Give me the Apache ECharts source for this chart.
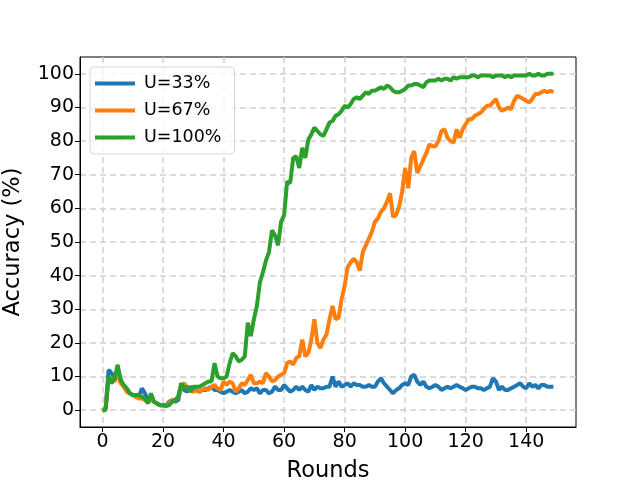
<!DOCTYPE html>
<html>
<head>
<meta charset="utf-8">
<script src="https://cdn.jsdelivr.net/npm/echarts@6/dist/echarts.min.js"></script>
<style>
  html, body { margin: 0; padding: 0; background: #fff; }
  #chart { width: 640px; height: 480px; }
</style>
</head>
<body>
<div id="chart"></div>
<script>
// accuracy per round
const u33 = [
  0, 0.5, 12, 11, 9.5, 11, 9, 7, 6, 5,
  4.5, 4, 4, 6.5, 5, 3, 4, 2.5, 2, 1.5,
  1.5, 1.5, 2.5, 3, 2.5, 3, 7, 6, 5.5, 7,
  6, 6, 5.5, 6, 6, 6.5, 7, 6, 6, 5.5,
  5, 5.5, 6, 5.5, 5, 5.5, 6, 5, 5.5, 6.5,
  6, 6.5, 5, 6, 6, 5, 5.5, 7, 6, 6,
  7.5, 6.5, 5.5, 6, 7, 6, 7, 6, 5.5, 7.5,
  6, 7, 6.5, 6.5, 7, 7, 10, 7, 8.5, 7,
  7.5, 8, 7, 8, 7.5, 7.5, 7, 7, 7.5, 7,
  7, 8.5, 9.5, 8, 7, 6, 5, 6, 6.5, 7.5,
  8, 7.5, 10, 10.5, 8.5, 7.5, 8.5, 7, 6.5, 7,
  7.5, 7, 6, 6.5, 7, 6.5, 7, 7.5, 7, 6.5,
  6, 6.5, 7, 7, 6.5, 6.5, 6, 6.5, 7, 9.5,
  8.5, 6, 7, 6, 6, 6.5, 7, 7.5, 8, 7,
  6.5, 8, 7, 7.5, 6.5, 7.5, 7.5, 7, 7, 7
];
const u67 = [
  0, 0.5, 9, 9.5, 8.5, 11, 8, 7, 5.5, 5,
  4.5, 4, 3.5, 3.5, 3, 2.5, 3, 2.5, 2, 1.5,
  1.5, 1.5, 2, 3, 3, 4, 7, 8, 6.5, 6,
  5.5, 6, 5.5, 6, 6.5, 6, 7, 7.5, 6.5, 6,
  8.5, 7.5, 8.5, 8, 5.5, 6.5, 8, 7.5, 9, 10.5,
  8, 8, 8.5, 8, 11, 10, 8.5, 9, 10, 10.5,
  11, 14, 14.5, 13.5, 15.5, 16, 21, 16, 17, 21,
  27, 20, 18.5, 21, 22.5, 27, 31, 27, 27.5, 33,
  37, 42.5, 44, 45, 44, 41.5, 47, 49, 51, 53,
  56, 57, 59, 60, 62, 64.5, 57.5, 58, 60.5, 65,
  72, 66, 75, 77, 70.5, 72.5, 74.5, 76.5, 79, 78.5,
  78.5, 80, 83, 83.5, 81, 80, 79.5, 83.5, 81, 83.5,
  85, 86.5, 86.5, 87.5, 88, 88.5, 89.5, 90.5, 90.5, 91.5,
  92.5, 90, 89, 89.5, 90, 89.5, 92, 93.5, 93, 92.5,
  92, 91.5, 92.5, 94, 94, 94.5, 95, 94.5, 95, 94.5
];
const u100 = [
  0, 0, 10, 8, 9.5, 13.5, 9, 7.5, 6.5, 5,
  4.5, 4.5, 4.5, 4, 3.5, 2, 5, 2.5, 2, 1.5,
  1.5, 1.2, 1.5, 2.5, 3, 4, 8, 6.5, 7, 5.5,
  7, 7, 7, 7.5, 8, 8.5, 8.5, 14, 10, 9.5,
  9.5, 10, 14, 17, 16, 14.5, 15, 16, 26, 22,
  27, 31, 38, 41, 44.5, 47, 53.5, 52, 49, 56,
  58, 68, 67.5, 75, 75.5, 72, 78, 75, 80.5, 82,
  84, 83, 82, 81.5, 83.5, 85.5, 86, 87.5, 88, 89,
  90.5, 90, 91, 92.5, 93, 92.5, 93.5, 94.5, 94, 95,
  95, 95.5, 96, 95.5, 96.5, 96, 95, 94.5, 94.5, 95,
  95.5, 96.5, 96.5, 97, 97, 96.5, 96, 97.5, 98, 98,
  98, 98.5, 98, 98.5, 98.5, 98, 99, 98.5, 99, 99,
  99, 99, 99.5, 99.5, 99, 99.5, 99.5, 99.5, 99.5, 99,
  99.5, 99.5, 99.5, 99, 99.5, 99, 99.5, 99.5, 99.5, 99.5,
  99.5, 100, 99.5, 99.5, 100, 99.5, 99.5, 100, 100, 100
];
const seriesNames = ['U=33%', 'U=67%', 'U=100%'];
const colors = ['#1f77b4', '#ff7f0e', '#2ca02c'];
const xTicks = [0, 20, 40, 60, 80, 100, 120, 140];
const yTicks = [0, 10, 20, 30, 40, 50, 60, 70, 80, 90, 100];

const font = 'DejaVu Sans';
const toPairs = arr => arr.map((v, i) => [i, v]);

const gridLine = {
  show: true,
  lineStyle: { color: '#d0d0d0', width: 1.5, type: [6, 4] }
};

const option = {
  animation: false,
  color: colors,
  grid: {
    left: 80, right: 64, top: 57, bottom: 53,
    outerBoundsMode: 'none',
    containLabel: false,
    show: true, borderColor: '#000', borderWidth: 1
  },
  legend: {
    orient: 'vertical',
    left: 90, top: 67,
    icon: 'rect',
    itemWidth: 40, itemHeight: 4,
    itemGap: 8,
    padding: [7, 13, 7, 5],
    backgroundColor: 'rgba(255,255,255,0.8)',
    borderColor: '#d6d6d6',
    borderWidth: 1,
    borderRadius: 4,
    textStyle: { fontFamily: font, fontSize: 17.5, color: '#000', lineHeight: 19, padding: [0, 0, 0, 4] },
    data: seriesNames
  },
  xAxis: {
    type: 'value',
    min: -7.45, max: 156.45,
    name: 'Rounds',
    nameLocation: 'middle',
    nameGap: 33,
    nameTextStyle: { fontFamily: font, fontSize: 22.5, color: '#000' },
    axisLine: { show: true, onZero: false, lineStyle: { color: '#000' } },
    axisTick: { show: true, length: 5, customValues: xTicks, lineStyle: { color: '#000' } },
    axisLabel: { customValues: xTicks, fontFamily: font, fontSize: 19, color: '#000', margin: 6 },
    splitLine: gridLine
  },
  yAxis: {
    type: 'value',
    min: -5, max: 105,
    name: 'Accuracy (%)',
    nameLocation: 'middle',
    nameGap: 55,
    nameTextStyle: { fontFamily: font, fontSize: 22.5, color: '#000' },
    axisLine: { show: true, onZero: false, lineStyle: { color: '#000' } },
    axisTick: { show: true, length: 5, customValues: yTicks, lineStyle: { color: '#000' } },
    axisLabel: { customValues: yTicks, fontFamily: font, fontSize: 19, color: '#000', margin: 6 },
    splitLine: gridLine
  },
  series: [u33, u67, u100].map((arr, i) => ({
    name: seriesNames[i],
    type: 'line',
    data: toPairs(arr),
    showSymbol: false,
    symbol: 'none',
    lineStyle: { width: 4, color: colors[i] },
    itemStyle: { color: colors[i] }
  }))
};

const chart = echarts.init(document.getElementById('chart'));
chart.setOption(option);
</script>
</body>
</html>
